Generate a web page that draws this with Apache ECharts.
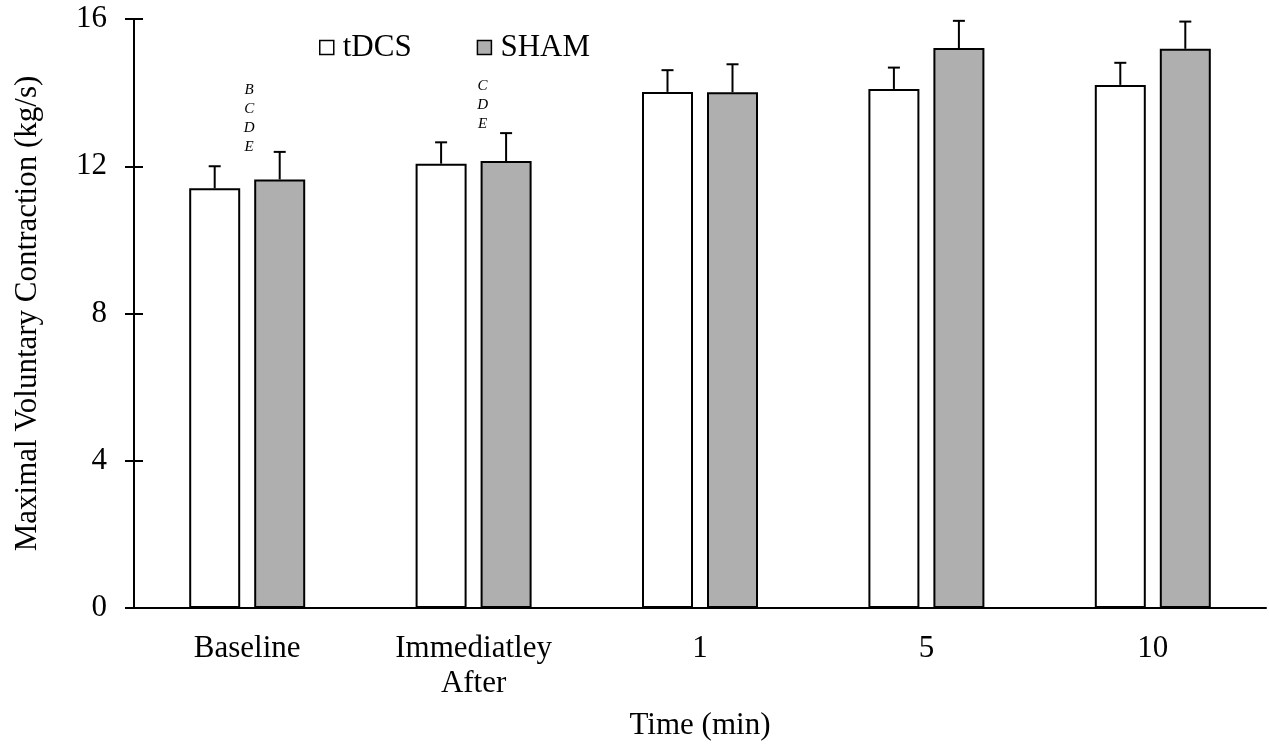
<!DOCTYPE html>
<html>
<head>
<meta charset="utf-8">
<title>Maximal Voluntary Contraction</title>
<script src="https://cdn.jsdelivr.net/npm/echarts@6/dist/echarts.min.js"></script>
<style>
  html, body { margin: 0; padding: 0; background: #fff; }
  #chart { width: 1269px; height: 746px; }
</style>
</head>
<body>
<div id="chart"></div>
<script>
// Time points (x categories)
const categories = ['Baseline', 'Immediatley\nAfter', '1', '5', '10'];

// Group means and standard deviations (kg/s)
const tdcsMean = [11.40, 12.07, 14.02, 14.10, 14.21];
const tdcsSD   = [0.60, 0.58, 0.59, 0.58, 0.60];
const shamMean = [11.64, 12.14, 14.01, 15.21, 15.19];
const shamSD   = [0.75, 0.76, 0.76, 0.74, 0.74];

// Significance letters shown above the SHAM error bars
const sigLetters = ['B\nC\nD\nE', 'C\nD\nE', '', '', ''];

// Y axis ticks
const yTicks = [0, 4, 8, 12, 16];

// ---- styling ----
const FONT = '"Liberation Serif", "Times New Roman", serif';
const FS = 31;
const BAR_W = 51;
const BAR_GAP = 14;
const PAIR_OFFSET = (BAR_W + BAR_GAP) / 2;
const CAP_HALF = 6;
const LETTER_SHIFT = [[2, 5], [9, 0], [0, 0], [0, 0], [0, 0]];

function errorSeries(name, means, sds, sign) {
  return {
    type: 'custom',
    name: name + ' SD',
    z: 5,
    silent: true,
    renderItem: function (params, api) {
      const i = api.value(0);
      const m = api.value(1);
      const s = api.value(2);
      const base = api.coord([i, m]);
      const top = api.coord([i, m + s]);
      const cx = base[0] + sign * PAIR_OFFSET;
      const st = { stroke: '#000', lineWidth: 2 };
      return {
        type: 'group',
        children: [
          { type: 'line', shape: { x1: cx, y1: base[1], x2: cx, y2: top[1] }, style: st },
          { type: 'line', shape: { x1: cx - CAP_HALF, y1: top[1], x2: cx + CAP_HALF, y2: top[1] }, style: st }
        ]
      };
    },
    data: means.map((m, i) => [i, m, sds[i]])
  };
}

const chart = echarts.init(document.getElementById('chart'), null, { renderer: 'canvas' });

chart.setOption({
  animation: false,
  backgroundColor: '#ffffff',
  textStyle: { fontFamily: FONT, color: '#000' },
  grid: { left: 134, right: 3, top: 19, bottom: 137, containLabel: false },
  legend: {
    data: ['tDCS', 'SHAM'],
    left: 314,
    top: 27,
    icon: 'rect',
    itemWidth: 14,
    itemHeight: 14,
    itemGap: 65,
    itemStyle: { borderWidth: 1.5, borderColor: '#000' },
    textStyle: { fontFamily: FONT, fontSize: FS, color: '#000', padding: [0, 0, 0, 4] }
  },
  xAxis: {
    type: 'category',
    data: categories,
    name: 'Time (min)',
    nameLocation: 'middle',
    nameGap: 102,
    nameTextStyle: { fontFamily: FONT, fontSize: FS, color: '#000' },
    axisLine: { lineStyle: { color: '#000', width: 2 } },
    axisTick: { show: false },
    axisLabel: { fontFamily: FONT, fontSize: FS, color: '#000', margin: 23, lineHeight: 35 },
    splitLine: { show: false }
  },
  yAxis: [
    {
      type: 'value',
      min: yTicks[0],
      max: yTicks[yTicks.length - 1],
      interval: yTicks[1] - yTicks[0],
      name: 'Maximal Voluntary Contraction (kg/s)',
      nameLocation: 'middle',
      nameGap: 91,
      nameTextStyle: { fontFamily: FONT, fontSize: FS, color: '#000' },
      axisLine: { show: true, lineStyle: { color: '#000', width: 2 } },
      axisTick: { show: true, length: 9, lineStyle: { color: '#000', width: 2 } },
      axisLabel: { fontFamily: FONT, fontSize: FS, color: '#000', margin: 27 },
      splitLine: { show: false }
    },
    {
      // inner half of the crossing tick marks
      type: 'value',
      position: 'left',
      min: yTicks[0],
      max: yTicks[yTicks.length - 1],
      interval: yTicks[1] - yTicks[0],
      axisLine: { show: false },
      axisTick: { show: true, inside: true, length: 9, lineStyle: { color: '#000', width: 2 } },
      axisLabel: { show: false },
      splitLine: { show: false }
    }
  ],
  series: [
    {
      name: 'tDCS',
      type: 'bar',
      data: tdcsMean,
      barWidth: BAR_W,
      barGap: (BAR_GAP / BAR_W * 100) + '%',
      itemStyle: { color: '#ffffff', borderColor: '#000', borderWidth: 2 },
      z: 3
    },
    {
      name: 'SHAM',
      type: 'bar',
      data: shamMean,
      barWidth: BAR_W,
      itemStyle: { color: '#afafaf', borderColor: '#000', borderWidth: 2 },
      z: 3
    },
    errorSeries('tDCS', tdcsMean, tdcsSD, -1),
    errorSeries('SHAM', shamMean, shamSD, 1),
    {
      type: 'custom',
      name: 'letters',
      silent: true,
      z: 6,
      renderItem: function (params, api) {
        const i = api.value(0);
        const txt = sigLetters[i];
        if (!txt) return null;
        const p = api.coord([i, api.value(1)]);
        const sh = LETTER_SHIFT[i];
        return {
          type: 'text',
          x: p[0] + sh[0],
          y: p[1] + sh[1],
          style: {
            text: txt,
            fill: '#000',
            font: 'italic 15px ' + FONT,
            lineHeight: 19,
            align: 'center',
            verticalAlign: 'bottom'
          }
        };
      },
      data: shamMean.map((m, i) => [i, m + shamSD[i]])
    }
  ]
});
</script>
</body>
</html>
